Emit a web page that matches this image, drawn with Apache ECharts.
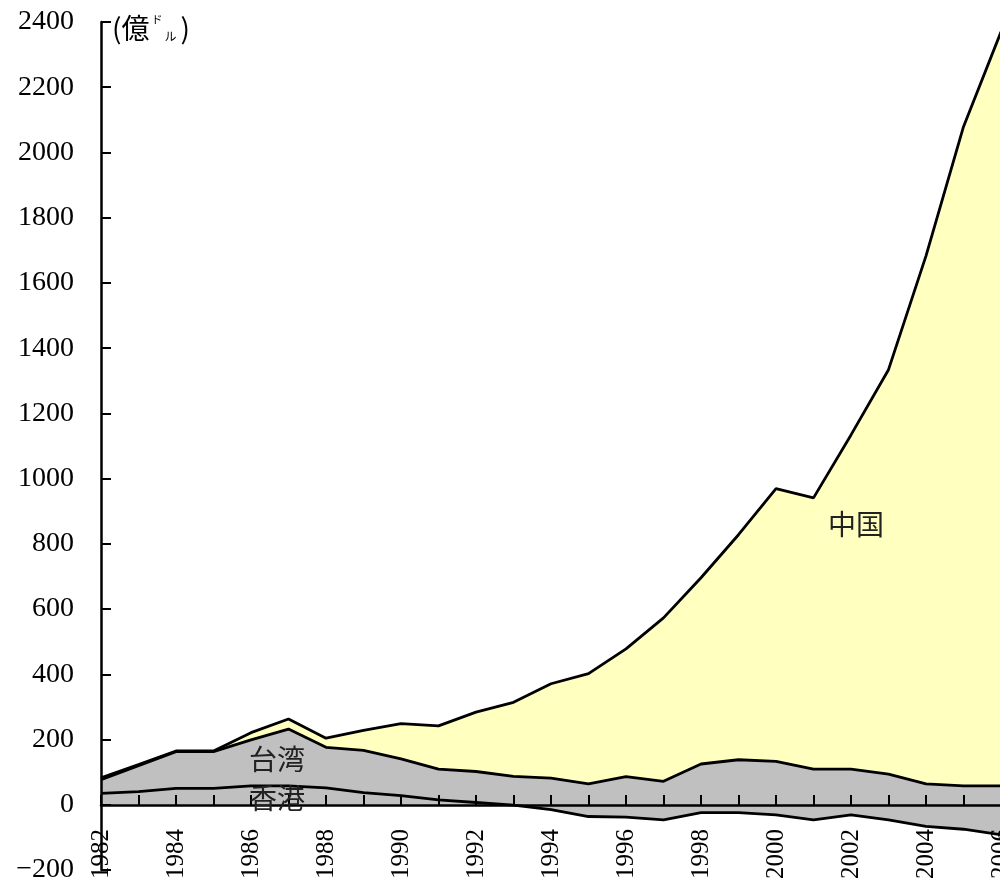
<!DOCTYPE html>
<html>
<head>
<meta charset="utf-8">
<script src="https://cdn.jsdelivr.net/npm/echarts@6/dist/echarts.min.js"></script>
<style>
html, body { margin: 0; padding: 0; background: #fff; }
#chart { width: 1000px; height: 886px; }
</style>
</head>
<body>
<div id="chart"></div>
<script>
var years = ['1982','1983','1984','1985','1986','1987','1988','1989','1990','1991','1992','1993',
    '1994','1995','1996','1997','1998','1999','2000','2001','2002','2003','2004','2005','2006'];
// 香港 (bottom), 台湾, 中国 stacked on top
var hongkong = [35,40,50,50,58,58,52,37,28,15,7,-1,-15,-36,-38,-46,-24,-24,-31,-46,-31,-46,-66,-75,-92];
var taiwan = [42,80,113,113,141,174,124,130,113,94,95,88,97,100,124,118,149,162,164,155,140,140,130,133,150];
var china = [6,3,2,2,22,31,28,61,108,133,182,227,289,338,392,501,571,690,836,832,1025,1240,1619,2021,2312];

var yMin = -200, yMax = 2400, yStep = 200;

var numFont = '"Liberation Serif"';
var cjkFont = '"Noto Sans CJK JP"';

var myChart = echarts.init(document.getElementById('chart'));

function areaSeries(name, data, color){
    return {
        name: name,
        type: 'line',
        stack: 'total',
        stackStrategy: 'all',
        symbol: 'none',
        data: data,
        lineStyle: { color: '#000', width: 2.8 },
        areaStyle: { color: color, opacity: 1 }
    };
}

var option = {
    animation: false,
    backgroundColor: '#fff',
    grid: { left: 101, top: 22, width: 900, height: 848, containLabel: false, outerBoundsMode: 'none' },
    xAxis: {
        type: 'category',
        boundaryGap: false,
        data: years,
        z: 10,
        position: 'bottom',
        offset: -65,   // put the axis on the zero line (805px)
        axisLine: { onZero: false, lineStyle: { color: '#000', width: 2.5 } },
        axisTick: { inside: true, length: 10, interval: 0, lineStyle: { color: '#000', width: 2 } },
        axisLabel: {
            interval: 1,
            rotate: 90,
            margin: 24,
            color: '#000',
            fontFamily: numFont,
            fontSize: 25
        },
        splitLine: { show: false }
    },
    yAxis: {
        type: 'value',
        min: yMin,
        max: yMax,
        interval: yStep,
        z: 10,
        axisLine: { show: true, lineStyle: { color: '#000', width: 2.5 } },
        axisTick: { show: true, inside: true, length: 10, lineStyle: { color: '#000', width: 2 } },
        axisLabel: {
            margin: 27,
            color: '#000',
            fontFamily: numFont,
            fontSize: 28,
            formatter: function(v){ return v < 0 ? '\u2212' + Math.abs(v) : String(v); }
        },
        splitLine: { show: false }
    },
    graphic: [
        {
            type: 'text', left: 112, top: 14, z: 20,
            style: {
                text: '(億{a|ド}{b|ル})',
                fill: '#000',
                font: '28px ' + cjkFont,
                rich: {
                    a: { fontSize: 11, fontFamily: 'Noto Sans CJK JP', verticalAlign: 'top', padding: [0, 1, 12, 2], fill: '#000' },
                    b: { fontSize: 12, fontFamily: 'Noto Sans CJK JP', verticalAlign: 'bottom', padding: [8, 4, 0, 1], fill: '#000' }
                }
            }
        },
        { type: 'text', left: 828, top: 510, z: 20, style: { text: '中国', fill: '#222', font: '28px ' + cjkFont } },
        { type: 'text', left: 249, top: 745, z: 20, style: { text: '台湾', fill: '#222', font: '28px ' + cjkFont } },
        { type: 'text', left: 249, top: 784, z: 20, style: { text: '香港', fill: '#222', font: '28px ' + cjkFont } }
    ],
    series: [
        areaSeries('香港', hongkong, '#c0c0c0'),
        areaSeries('台湾', taiwan, '#c0c0c0'),
        areaSeries('中国', china, '#ffffc0')
    ]
};

myChart.setOption(option);
</script>
</body>
</html>
